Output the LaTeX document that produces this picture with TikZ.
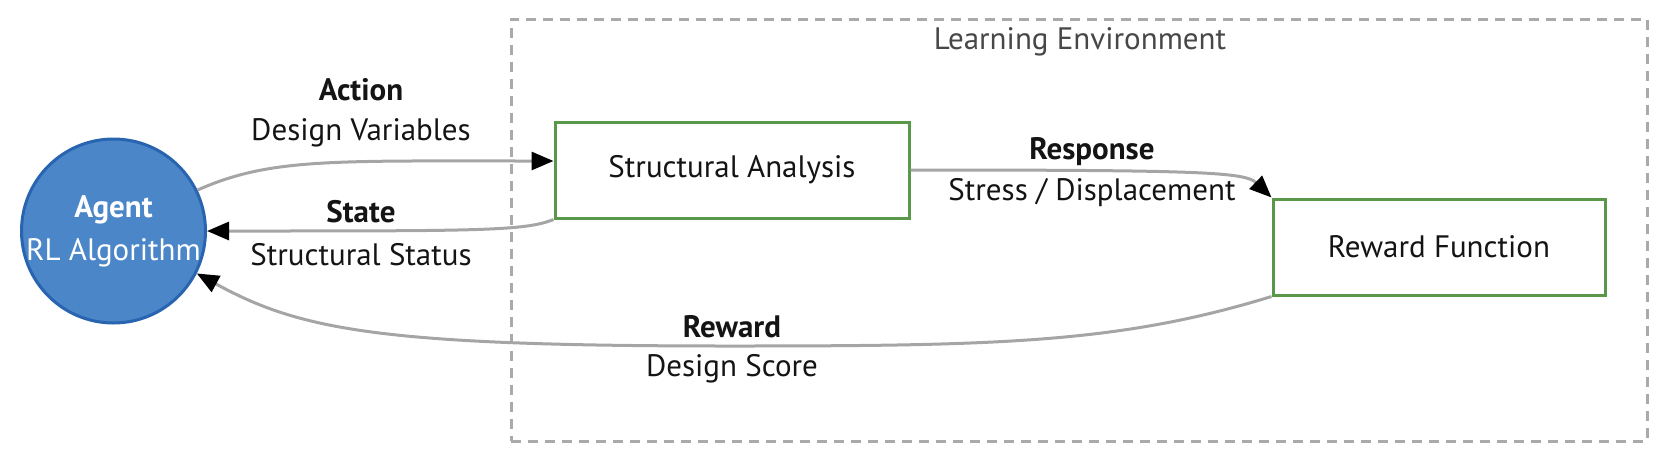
\documentclass[tikz,border=0pt]{standalone}
\usepackage{fontspec}
\setmainfont{PT Sans}
\usetikzlibrary{arrows.meta}
\definecolor{agentblue}{RGB}{74,134,200}
\definecolor{agentborder}{RGB}{40,100,175}
\definecolor{boxgreen}{RGB}{88,152,72}
\definecolor{linegrey}{RGB}{165,165,165}
\definecolor{dashgrey}{RGB}{170,170,170}
\definecolor{labeltext}{RGB}{20,20,20}
\tikzset{
  agentnode/.style={circle, fill=agentblue, draw=agentborder, line width=1.5pt, minimum size=92pt, inner sep=0pt},
  procbox/.style={rectangle, draw=boxgreen, line width=1.5pt, fill=white, inner sep=0pt},
  envbox/.style={rectangle, draw=dashgrey, line width=1.5pt, dash pattern=on 5pt off 3.5pt, inner sep=0pt},
  conn/.style={draw=linegrey, line width=1.5pt, -{Triangle[length=11pt,width=9pt,color=black]}},
  lbl/.style={font=\fontsize{15.5}{18}\selectfont, text=labeltext, inner sep=0pt, anchor=center},
  lblb/.style={lbl, font=\fontsize{15.5}{18}\selectfont\bfseries},
}
\begin{document}
\begin{tikzpicture}[x=0.5pt,y=-0.5pt]
\useasboundingbox (0,0) rectangle (1663,456);
\node[envbox, minimum width=568pt, minimum height=211pt] (env) at (1079,230) {};
\node[lbl, text=black!72] (envlabel) at (1080,42) {Learning Environment};
\node[agentnode] (agent) at (113.5,231) {};
\node[lblb, text=white] (agentt) at (113.5,210) {Agent};
\node[lbl, text=white] (agents) at (113.5,253) {RL Algorithm};
\node[procbox, minimum width=177pt, minimum height=48pt] (sa) at (732,170) {};
\node[lbl] (sat) at (732,170) {Structural Analysis};
\node[procbox, minimum width=166pt, minimum height=48pt] (rf) at (1439,247) {};
\node[lbl] (rft) at (1439,247) {Reward Function};
\coordinate (aout) at (agent.26);
\coordinate (ain) at ([yshift=4.5pt]sa.west);
\draw[conn] (aout) .. controls (270,158) and (330,161) .. (ain);
\draw[conn] (sa.south west) .. controls (525,231) and (480,231) .. (agent.east);
\draw[conn] (sa.east) .. controls (1200,170) and (1245,172) .. (rf.north west);
\draw[conn] (rf.south west) .. controls (1120,343) and (1000,346) .. (730,346) .. controls (380,346) and (300,330) .. (agent.-27);
\node[lblb] (actt) at (361,90) {Action};
\node[lbl] (acts) at (361,133) {Design Variables};
\node[lblb] (stt) at (361,212) {State};
\node[lbl] (sts) at (361,255) {Structural Status};
\node[lblb] (respt) at (1092,152) {Response};
\node[lbl] (resps) at (1092,193) {Stress / Displacement};
\node[lblb] (rewt) at (732,327) {Reward};
\node[lbl] (rews) at (732,369) {Design Score};
\end{tikzpicture}
\end{document}
